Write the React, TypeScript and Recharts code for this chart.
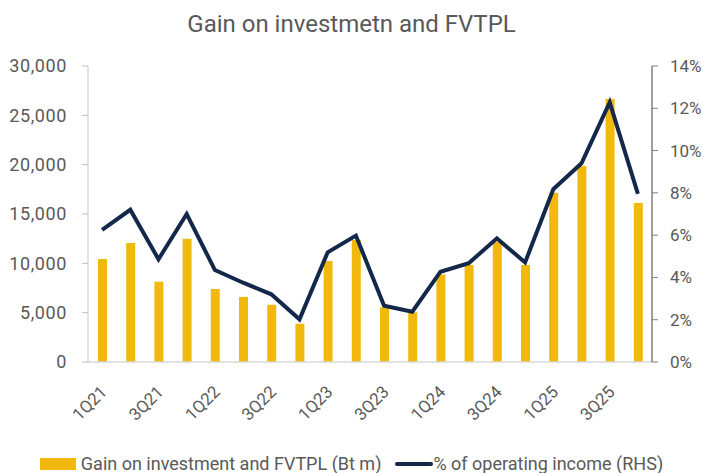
import { ComposedChart, Bar, Line, XAxis, YAxis, Legend } from 'recharts'

const QUARTERS = [
  '1Q21', '2Q21', '3Q21', '4Q21',
  '1Q22', '2Q22', '3Q22', '4Q22',
  '1Q23', '2Q23', '3Q23', '4Q23',
  '1Q24', '2Q24', '3Q24', '4Q24',
  '1Q25', '2Q25', '3Q25', '4Q25',
]

// Bt m
const GAIN = [
  10450, 12060, 8140, 12500,
  7400, 6600, 5800, 3880,
  10240, 12360, 5540, 5030,
  8880, 9830, 12200, 9830,
  17160, 19860, 26650, 16110,
]

// % of operating income
const PCT_OP_INCOME = [
  6.25, 7.2, 4.86, 7.0,
  4.35, 3.75, 3.2, 2.02,
  5.19, 5.98, 2.66, 2.38,
  4.27, 4.67, 5.85, 4.71,
  8.17, 9.4, 12.28, 7.95,
]

const LEFT_TICKS = [0, 5000, 10000, 15000, 20000, 25000, 30000]
const RIGHT_TICKS = [0, 2, 4, 6, 8, 10, 12, 14]

const BAR_COLOR = '#F2B90D'
const LINE_COLOR = '#13284A'
const TEXT_COLOR = '#595959'
const FONT = 'Roboto, "Noto Sans", sans-serif'

const data = QUARTERS.map((q, i) => ({
  q,
  gain: GAIN[i],
  pct: PCT_OP_INCOME[i],
}))

function QuarterTick(props: any) {
  const { x, y, payload } = props
  const ax = x + 6
  const ay = y + 31
  return (
    <text
      x={ax}
      y={ay}
      textAnchor="end"
      fill={TEXT_COLOR}
      fontSize={17}
      fontFamily={FONT}
      style={{ transform: 'rotate(-45deg)', transformOrigin: `${ax}px ${ay}px`, transformBox: 'view-box' }}
    >
      {payload.value}
    </text>
  )
}

function ChartLegend() {
  return (
    <div
      style={{
        display: 'flex',
        alignItems: 'center',
        justifyContent: 'center',
        fontFamily: FONT,
        fontSize: 18,
        lineHeight: '18px',
        color: TEXT_COLOR,
        height: 18,
      }}
    >
      <span style={{ width: 36, height: 12, background: BAR_COLOR, marginRight: 5 }} />
      <span style={{ marginRight: 14 }}>Gain on investment and FVTPL (Bt m)</span>
      <span style={{ width: 38, height: 4, background: LINE_COLOR, borderRadius: 2 }} />
      <span>% of operating income (RHS)</span>
    </div>
  )
}

export default function App() {
  return (
    <div style={{ position: 'absolute', left: 0, top: 0, width: 703, height: 473, background: '#fff' }}>
      <div
        style={{
          position: 'absolute',
          top: 10,
          left: 0,
          width: 703,
          textAlign: 'center',
          fontFamily: FONT,
          fontSize: 24,
          color: TEXT_COLOR,
        }}
      >
        Gain on investmetn and FVTPL
      </div>
      <ComposedChart
        width={703}
        height={473}
        data={data}
        margin={{ top: 66, right: 0, bottom: 0, left: 0 }}
      >
        <XAxis
          dataKey="q"
          interval={1}
          tick={QuarterTick}
          tickLine={false}
          tickSize={0}
          tickMargin={0}
          axisLine={{ stroke: '#D9D9D9', strokeWidth: 1.5 }}
          height={93}
        />
        <YAxis
          yAxisId="left"
          width={88}
          domain={[0, 30000]}
          ticks={LEFT_TICKS}
          tickFormatter={(v: number) => v.toLocaleString('en-US')}
          tick={{ fill: TEXT_COLOR, fontSize: 18, fontFamily: FONT, letterSpacing: 0.6 }}
          tickLine={{ stroke: '#BFBFBF' }}
          tickSize={6}
          tickMargin={15}
          axisLine={{ stroke: '#D9D9D9', strokeWidth: 1.5 }}
        />
        <YAxis
          yAxisId="right"
          orientation="right"
          width={51}
          domain={[0, 14]}
          ticks={RIGHT_TICKS}
          tickFormatter={(v: number) => `${v}%`}
          tick={{ fill: TEXT_COLOR, fontSize: 17, fontFamily: FONT }}
          tickLine={{ stroke: '#7F7F7F' }}
          tickSize={6}
          tickMargin={12}
          axisLine={{ stroke: '#7F7F7F', strokeWidth: 1.5 }}
        />
        <Bar
          yAxisId="left"
          dataKey="gain"
          fill={BAR_COLOR}
          barSize={9}
          isAnimationActive={false}
        />
        <Line
          yAxisId="right"
          dataKey="pct"
          stroke={LINE_COLOR}
          strokeWidth={4}
          dot={false}
          type="linear"
          isAnimationActive={false}
        />
        <Legend verticalAlign="bottom" height={18} content={<ChartLegend />} />
      </ComposedChart>
    </div>
  )
}
